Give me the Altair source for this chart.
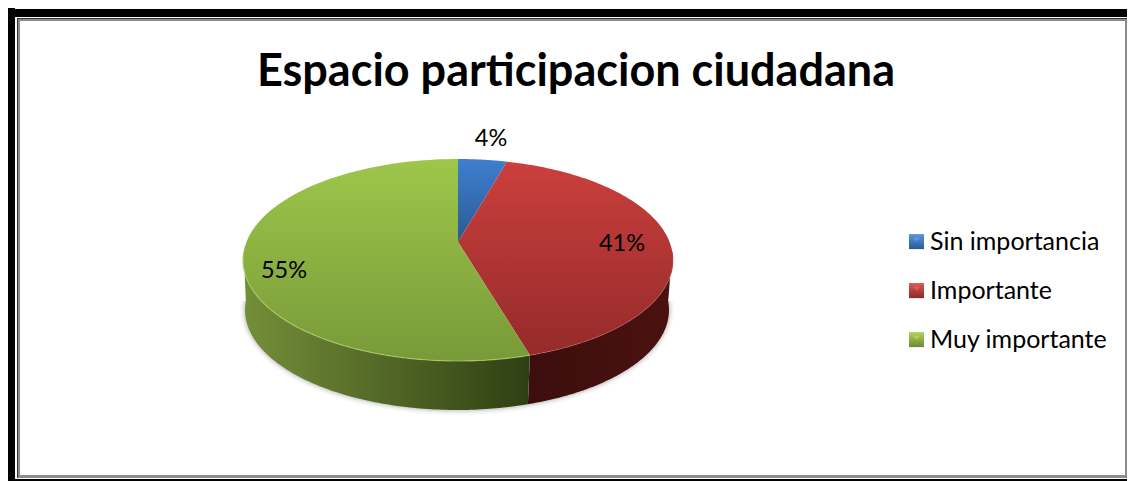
import numpy as np
import pandas as pd
import altair as alt

TITLE = "Espacio participacion ciudadana"
categories = ["Sin importancia", "Importante", "Muy importante"]
shares = [4, 41, 55]
labels = ["4%", "41%", "55%"]
colors = ["#3A76C0", "#BE3A38", "#8FB143"]
bevel_light = ["#6AA6E6", "#E46A66", "#C6E06A"]
bevel_dark = ["#1F4F86", "#7A1F1F", "#5F7A2A"]
legend_centres = [241.5, 290.5, 339.5]

W, H = 1119, 473
RIGHT, BOTTOM = 8 + W, 8 + H
X = alt.X("x:Q", scale=alt.Scale(domain=[8, RIGHT], nice=False, zero=False), axis=None)
Y = alt.Y("y:Q", scale=alt.Scale(domain=[BOTTOM, 8], nice=False, zero=False), axis=None)

# geometry of the tilted pie
CX, CY, RX, RY = 458.0, 260.0, 215.0, 101.0
AY = 242.0
BCY, BRX, BRY = 310.0, 212.0, 100.0
cum = np.cumsum([0] + shares) / sum(shares)


def warp(t):
    return t - 0.087 * np.sin(t)


def top(t):
    t = warp(t)
    return CX + RX * np.sin(t), CY - RY * np.cos(t)


def bot(t):
    t = warp(t)
    return CX + BRX * np.sin(t) - 1, BCY - BRY * np.cos(t)


def frame(xs, ys):
    return pd.DataFrame({"x": xs, "y": ys, "i": np.arange(len(xs))})


def wedge(a, b):
    ts = np.linspace(a, b, 120) * 2 * np.pi
    x, y = top(ts)
    return frame(np.r_[CX, x], np.r_[AY, y])


def wall(a, b):
    ts = np.linspace(a, b, 120)
    x, y = top(ts)
    x2, y2 = bot(ts[::-1])
    return frame(np.r_[x, x2], np.r_[y, y2])


def rim(fn, a, b):
    x, y = fn(np.linspace(a, b, 120))
    return frame(x, y)


def grad(c1, c2, horizontal=False):
    return alt.Gradient(
        gradient="linear",
        x1=0, y1=0,
        x2=1 if horizontal else 0,
        y2=0 if horizontal else 1,
        stops=[alt.GradientStop(color=c1, offset=0), alt.GradientStop(color=c2, offset=1)],
    )


def poly(df, fill):
    return alt.Chart(df).mark_line(fill=fill, stroke=None, strokeWidth=0).encode(
        x=X, y=Y, order=alt.Order("i:Q"))


def val_rect(x, x2, y, y2, color):
    return alt.Chart(pd.DataFrame({"a": [0]})).mark_rect(fill=color).encode(
        x=alt.value(x - 8), x2=alt.value(x2 - 8), y=alt.value(y - 8), y2=alt.value(y2 - 8))


def text(s, x, y, size, weight="normal"):
    return alt.Chart(pd.DataFrame({"t": [s]})).mark_text(
        font="Lato", fontSize=size, fontWeight=weight, color="#000000",
        align="center", baseline="middle").encode(
        x=alt.value(x - 8), y=alt.value(y - 8), text="t:N")


layers = []
# frame
layers += [
    val_rect(8, RIGHT, 9, 17, "#000000"),
    val_rect(8, 15, 8, 481, "#000000"),
    val_rect(15, RIGHT, 479, 481, "#000000"),
    val_rect(17, RIGHT, 18, 19, "#333333"),
    val_rect(17, 18, 18, 478, "#333333"),
    val_rect(18, RIGHT, 19, 21, "#8C8C8C"),
    val_rect(18, 20, 19, 478, "#8C8C8C"),
    val_rect(18, RIGHT, 475, 478, "#8C8C8C"),
    val_rect(RIGHT - 2, RIGHT, 19, 478, "#8C8C8C"),
]

# soft shadow under the pie wall
lo, hi = 0.25, 0.75
for w, o in [(10, 0.03), (6, 0.05), (3, 0.07)]:
    layers.append(alt.Chart(rim(bot, lo * 2 * np.pi, hi * 2 * np.pi)).mark_line(
        stroke="#000000", strokeWidth=w, opacity=o).encode(x=X, y=Y, order=alt.Order("i:Q")))

seam = cum[2] * 2 * np.pi
layers.append(poly(wall(np.pi / 2, seam), grad("#3B0E0D", "#4A1210", True)))
layers.append(poly(wall(seam, 1.5 * np.pi), grad("#748F39", "#2F3F13", True)))

layers.append(poly(wedge(cum[0], cum[1]), grad("#3E7FCF", "#2B5A92")))
layers.append(poly(wedge(cum[1], cum[2]), grad("#CB3F3D", "#942B2A")))
layers.append(poly(wedge(cum[2], cum[3]), grad("#9EC64A", "#789A39")))

# lit rim of the lower edge
layers.append(alt.Chart(rim(top, np.pi / 2, seam)).mark_line(
    stroke="#C9605C", strokeWidth=1, opacity=0.5).encode(x=X, y=Y, order=alt.Order("i:Q")))
layers.append(alt.Chart(rim(top, seam, 1.5 * np.pi)).mark_line(
    stroke="#B3D463", strokeWidth=1.2, opacity=0.7).encode(x=X, y=Y, order=alt.Order("i:Q")))

# bevel beneath the legend symbols
for light, dark, cy in zip(bevel_light, bevel_dark, legend_centres):
    layers.append(val_rect(909, 924, cy - 7.5, cy + 7.5, grad(light, dark)))
    layers.append(alt.Chart(pd.DataFrame({"a": [0]})).mark_point(
        shape="M-1,-1L1,-1L0,0Z", size=56, filled=True, fill=light, opacity=1, stroke=None
    ).encode(x=alt.value(916.5 - 8), y=alt.value(cy - 7.5 + 7.5 - 8)))

# legend carrier
legend_df = pd.DataFrame({"cat": categories, "share": shares})
layers.append(alt.Chart(legend_df).mark_square(size=0, opacity=1).encode(
    color=alt.Color(
        "cat:N",
        scale=alt.Scale(domain=categories, range=colors),
        sort=categories,
        legend=alt.Legend(
            title=None, orient="none", legendX=904 - 8, legendY=229.5 - 8,
            symbolType="square", symbolSize=225, symbolStrokeWidth=0, symbolOpacity=0.3,
            labelFont="Lato", labelFontSize=25, labelColor="#000000", labelLimit=300,
            labelOffset=1, rowPadding=23, padding=0,
        ),
    ),
    x=alt.value(100), y=alt.value(100),
))

layers += [
    text(TITLE, 576, 72, 45, "bold"),
    text(labels[0], 491, 139, 23.5),
    text(labels[1], 622, 244, 23.5),
    text(labels[2], 284, 271, 23.5),
]

chart = alt.layer(*layers).properties(
    width=W, height=H, padding=0, background="#FFFFFF",
    autosize=alt.AutoSizeParams(type="none"),
).configure_view(stroke=None)
chart.save("out.html", embed_options={"renderer": "svg", "actions": False})
